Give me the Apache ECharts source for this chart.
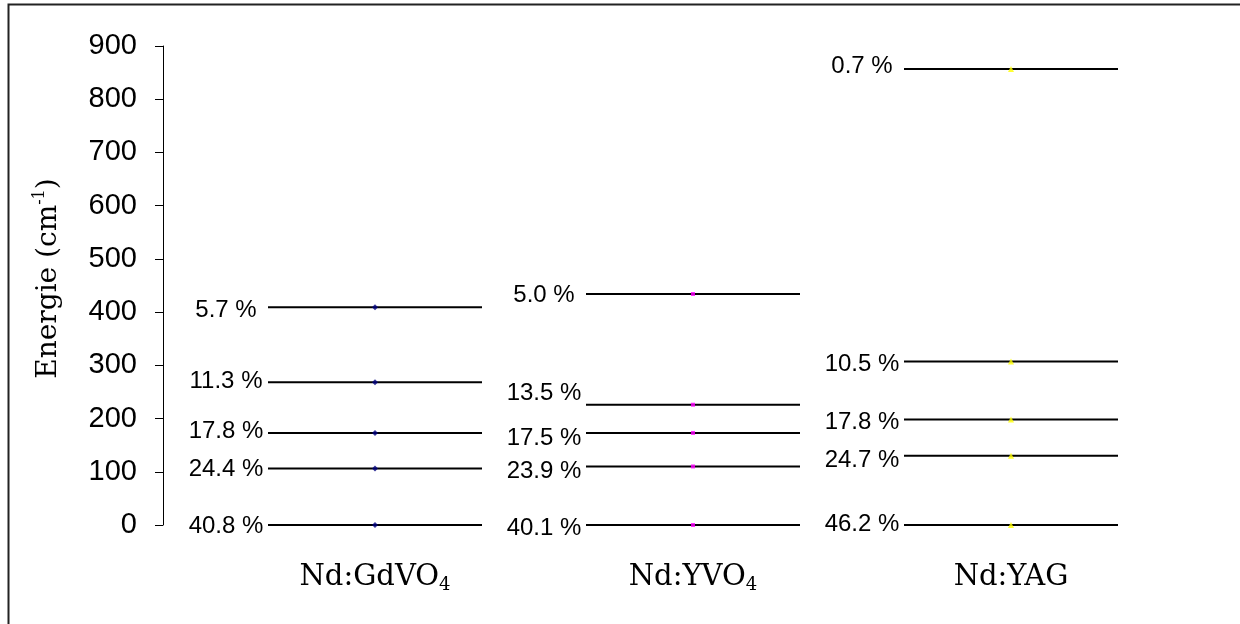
<!DOCTYPE html>
<html>
<head>
<meta charset="utf-8">
<script src="https://cdn.jsdelivr.net/npm/echarts@6/dist/echarts.min.js"></script>
<style>
html,body{margin:0;padding:0;background:#fff;}
#chart{width:1240px;height:624px;}
</style>
</head>
<body>
<div id="chart"></div>
<script>
// ---- data ----
const crystals = ['Nd:GdVO4', 'Nd:YVO4', 'Nd:YAG'];
const gdvo4Energy = [0, 106, 173, 268, 409];
const gdvo4Pct = ['40.8 %', '24.4 %', '17.8 %', '11.3 %', '5.7 %'];
const yvo4Energy = [0, 110, 173, 226, 434];
const yvo4Pct = ['40.1 %', '23.9 %', '17.5 %', '13.5 %', '5.0 %'];
const yagEnergy = [0, 130, 198, 307, 857];
const yagPct = ['46.2 %', '24.7 %', '17.8 %', '10.5 %', '0.7 %'];
const yTicks = [0, 100, 200, 300, 400, 500, 600, 700, 800, 900];

// ---- styles ----
const energies = [gdvo4Energy, yvo4Energy, yagEnergy];
const pcts = [gdvo4Pct, yvo4Pct, yagPct];
const markerColors = ['#000080', '#FF00FF', '#FFFF00'];
const markerSymbols = ['diamond', 'rect', 'triangle'];
const markerSizes = [6, 4, 6];
const labelNudge = [[1, 1, -2, -1, 3], [3, 5, 5, -11, 1], [-1, 5, 3, 3, -3]];
const HALF = 107;      // half length of a level line (px)
const LABEL_DX = 149;  // label centre distance left of mark centre (px)

const chart = echarts.init(document.getElementById('chart'));

const series = [];
crystals.forEach((c, i) => {
  series.push({
    type: 'custom',
    name: c + ' levels',
    data: energies[i].map((e, j) => [i, e]),
    renderItem: function (params, api) {
      const p = api.coord([api.value(0), api.value(1)]);
      const txt = pcts[i][params.dataIndex];
      const dy = labelNudge[i][params.dataIndex];
      return {
        type: 'group',
        children: [
          {
            type: 'line',
            shape: { x1: p[0] - HALF, y1: p[1], x2: p[0] + HALF, y2: p[1] },
            style: { stroke: '#000', lineWidth: 2 }
          },
          {
            type: 'text',
            x: p[0] - LABEL_DX,
            y: p[1] + dy,
            style: {
              text: txt,
              fill: '#000',
              font: '24px "Liberation Sans", Arial, sans-serif',
              textAlign: 'center',
              textVerticalAlign: 'middle'
            }
          }
        ]
      };
    },
    z: 2,
    silent: true
  });
  series.push({
    type: 'scatter',
    name: c,
    data: energies[i].map(e => [i, e]),
    symbol: markerSymbols[i],
    symbolSize: markerSizes[i],
    itemStyle: { color: markerColors[i] },
    z: 5,
    silent: true
  });
});

const option = {
  animation: false,
  backgroundColor: '#fff',
  grid: { left: 216, right: 70, top: 46, bottom: 99 },
  xAxis: {
    type: 'category',
    data: crystals,
    boundaryGap: true,
    axisLine: { show: false },
    axisTick: { show: false },
    axisLabel: {
      margin: 35,
      formatter: function (v) {
        const m = v.match(/^(.*?)(\d+)$/);
        return m ? '{a|' + m[1] + '}{b|' + m[2] + '}' : '{a|' + v + '}';
      },
      rich: {
        a: { fontFamily: '"DejaVu Serif", serif', fontSize: 29, color: '#000', lineHeight: 34 },
        b: { fontFamily: '"DejaVu Serif", serif', fontSize: 18, color: '#000', lineHeight: 14, verticalAlign: 'bottom' }
      }
    },
    splitLine: { show: false }
  },
  yAxis: {
    type: 'value',
    min: yTicks[0],
    max: yTicks[yTicks.length - 1],
    interval: yTicks[1] - yTicks[0],
    offset: 53,
    name: '{a|Energie (cm}{b|-1}{a|)}',
    nameLocation: 'middle',
    nameRotate: 90,
    nameGap: 97,
    nameTextStyle: {
      padding: [0, 0, 0, 14],
      rich: {
        a: { fontFamily: '"DejaVu Serif", serif', fontSize: 28, color: '#000', lineHeight: 34 },
        b: { fontFamily: '"DejaVu Serif", serif', fontSize: 16, color: '#000', lineHeight: 22, verticalAlign: 'top' }
      }
    },
    axisLine: { show: true, lineStyle: { color: '#000', width: 1 } },
    axisTick: { show: true, inside: false, length: 8, lineStyle: { color: '#000' } },
    axisLabel: {
      margin: 26,
      color: '#000',
      fontFamily: '"Liberation Sans", Arial, sans-serif',
      fontSize: 29
    },
    splitLine: { show: false }
  },
  graphic: [
    {
      type: 'rect',
      left: 6, top: 2,
      shape: { width: 1300, height: 700 },
      style: { fill: 'none', stroke: '#222', lineWidth: 2 },
      silent: true,
      z: 100
    }
  ],
  series: series
};
chart.setOption(option);
</script>
</body>
</html>
